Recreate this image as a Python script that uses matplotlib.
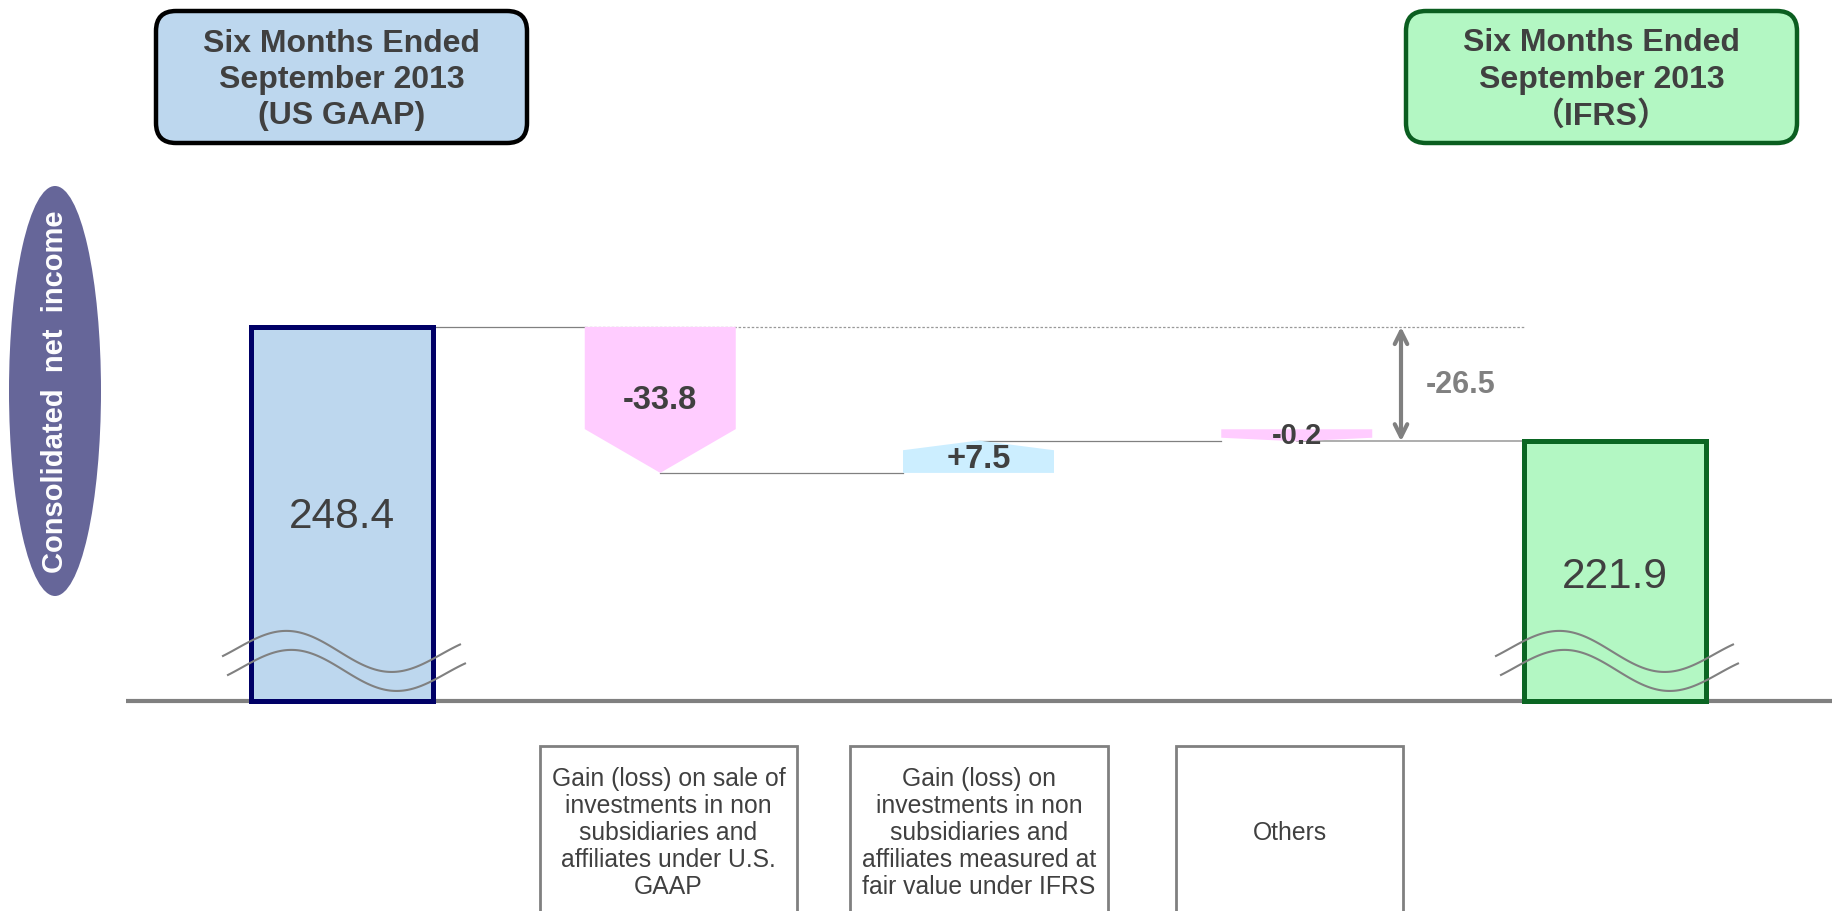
import numpy as np
import matplotlib
matplotlib.use("Agg")
import matplotlib.pyplot as plt
from matplotlib.patches import FancyBboxPatch, Ellipse, Polygon, Rectangle

plt.rcParams["font.family"] = ["Liberation Sans", "Noto Sans CJK JP", "DejaVu Sans"]

# --- data (billions of yen) ---
start_value = 248.4
end_value = 221.9
change_values = [-33.8, 7.5, -0.2]
change_labels = ["-33.8", "+7.5", "-0.2"]
start_title = "Six Months Ended\nSeptember 2013\n(US GAAP)"
end_title = "Six Months Ended\nSeptember 2013\n\uff08IFRS\uff09"
change_names = [
    "Gain (loss) on sale of\ninvestments in non\nsubsidiaries and\naffiliates under U.S.\nGAAP",
    "Gain (loss) on\ninvestments in non\nsubsidiaries and\naffiliates measured at\nfair value under IFRS",
    "Others",
]
y_title = "Consolidated  net  income"

# --- layout (pixels) ---
W, H = 1832, 912
X0, DX = 342, 318.25          # centre of first bar, spacing
BASE_PX, PPU = 702, 4.32      # baseline pixel row, pixels per unit
BASE = 161.8                  # value at the broken baseline
END_W, STEP_W = 182, 151
MIN_H = 2.8
TXT = "#404040"
GREY = "#808080"


def px_val(ypx):
    return BASE + (BASE_PX - np.asarray(ypx)) / PPU


fig = plt.figure(figsize=(W / 100, H / 100), dpi=100)
ax = fig.add_axes([0, 0, 1, 1])
ax.set_xlim(0, W)
ax.set_ylim(BASE - (H - BASE_PX) / PPU, BASE + BASE_PX / PPU)
ax.axis("off")

xs = X0 + DX * np.arange(len(change_values) + 2)

# baseline
ax.plot([126, W], [BASE, BASE], color=GREY, lw=3, zorder=1, solid_capstyle="butt")

# end bars
ax.bar([xs[0]], [start_value - BASE], bottom=BASE, width=END_W, color="#bdd7ee",
       edgecolor="#000066", linewidth=3.6, zorder=3)
ax.bar([xs[-1]], [end_value - BASE], bottom=BASE, width=END_W, color="#b3f7c3",
       edgecolor="#0b6623", linewidth=3.6, zorder=3)
ax.text(xs[0], (start_value + BASE) / 2 - 0.5, f"{start_value:.1f}", ha="center", va="center",
        fontsize=30.5, color=TXT, zorder=5)
ax.text(xs[-1], (end_value + BASE) / 2 - 1, f"{end_value:.1f}", ha="center", va="center",
        fontsize=30.5, color=TXT, zorder=5)

# axis-break waves
for cx in (xs[0], xs[-1]):
    xo = np.linspace(-119, 118, 120)
    yw = 649 - 19 * np.cos(np.pi * (xo + 54) / 102) + 7 * (xo + 119) / 237
    for ddx, ddy in [(0, 0), (5, 19)]:
        ax.plot(cx + xo + ddx, px_val(yw + ddy), color=GREY, lw=1.5, zorder=4)

# step arrows
ax.plot([xs[0] + END_W / 2, xs[1] - STEP_W / 2], [start_value] * 2, color=GREY, lw=0.9, zorder=2)
ax.plot([xs[1] - STEP_W / 2, xs[-1] - END_W / 2], [start_value] * 2, color="#999999", lw=0.9,
        linestyle=(0, (2, 1.5)), zorder=2)
running = start_value
for i, d in enumerate(change_values):
    x = xs[i + 1]
    y0, y1 = running, running + d
    if d < 0:
        top = max(y0, y1 + MIN_H)
        tip = 0.3 * (top - y1)
        pts = [(x - STEP_W / 2, top), (x + STEP_W / 2, top), (x + STEP_W / 2, y1 + tip),
               (x, y1), (x - STEP_W / 2, y1 + tip)]
        col, mid = "#ffccff", (top + y1) / 2
    else:
        bot = min(y0, y1 - MIN_H)
        tip = 0.3 * (y1 - bot)
        pts = [(x - STEP_W / 2, bot), (x + STEP_W / 2, bot), (x + STEP_W / 2, y1 - tip),
               (x, y1), (x - STEP_W / 2, y1 - tip)]
        col, mid = "#cceeff", (bot + y1) / 2 - 0.5
    ax.add_patch(Polygon(pts, closed=True, facecolor=col, edgecolor="none", zorder=3))
    ax.text(x, mid, change_labels[i], ha="center", va="center", fontsize=23.5 if abs(d) > 1 else 21,
            fontweight="bold", color=TXT, zorder=5)
    if i > 0:
        ax.plot([xs[i], x - STEP_W / 2], [y0, y0], color=GREY, lw=0.9, zorder=2)
    running = y1
ax.plot([xs[-2], xs[-1] - END_W / 2], [end_value] * 2, color="#a0a0a0", lw=1.2, zorder=2)

# total difference arrow
ax.annotate("", xy=(1401, end_value), xytext=(1401, start_value),
            arrowprops=dict(arrowstyle="<->,head_length=0.9,head_width=0.45", color=GREY,
                            lw=3, shrinkA=0, shrinkB=0), zorder=4)
ax.text(1461, (start_value + end_value) / 2, f"{end_value - start_value:.1f}", ha="center",
        va="center", fontsize=22, fontweight="bold", color=GREY)

# --- decorations in pixel space ---
pax = fig.add_axes([0, 0, 1, 1])
pax.set_xlim(0, W)
pax.set_ylim(H, 0)
pax.axis("off")
pax.patch.set_alpha(0)

for (x, w), title, fc, ec in [((156, 371), start_title, "#bdd7ee", "black"),
                              ((1406, 391), end_title, "#b3f7c3", "#0b5e20")]:
    pax.add_patch(FancyBboxPatch((x, 12), w, 132, boxstyle="round,pad=0,rounding_size=20",
                                 facecolor=fc, edgecolor=ec, linewidth=3.2))
    pax.text(x + w / 2, 80, title, ha="center", va="center", fontsize=23, fontweight="bold",
             color=TXT, linespacing=1.27)

pax.add_patch(Ellipse((55, 392), 92, 410, facecolor="#666699", edgecolor="none"))
pax.text(55, 392, y_title, rotation=90, ha="center", va="center", fontsize=21,
         fontweight="bold", color="white")

for (x, w), name in zip([(540, 257), (850, 258), (1176, 227)], change_names):
    pax.add_patch(Rectangle((x, 747), w, 190, facecolor="white", edgecolor=GREY, linewidth=2))
    pax.text(x + w / 2, 833, name, ha="center", va="center", fontsize=17.8, color=TXT,
             linespacing=1.17)

fig.savefig("out.png", dpi=100)
